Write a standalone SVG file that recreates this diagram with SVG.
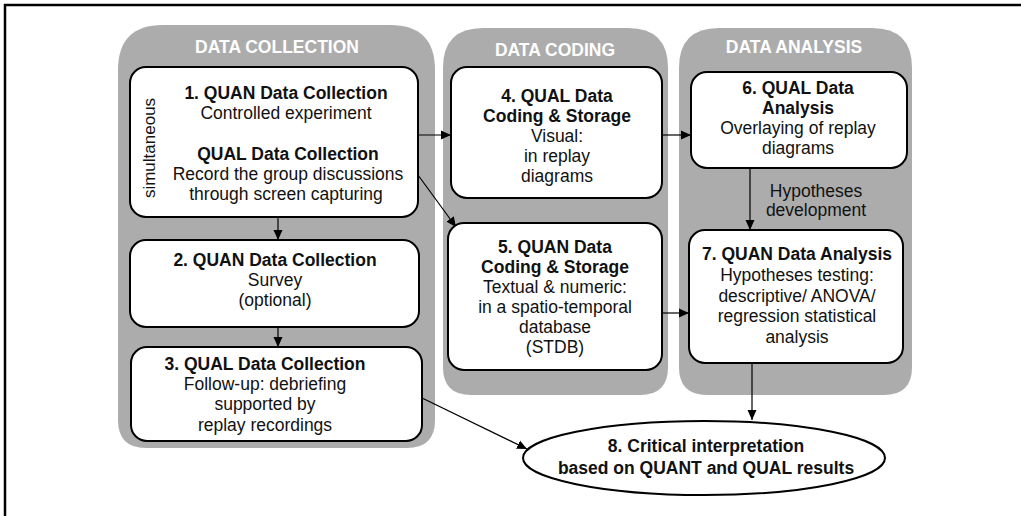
<svg xmlns="http://www.w3.org/2000/svg" width="1021" height="516" viewBox="0 0 1021 516">
<style>
.panel{fill:#acacac;}
.hdr{font-family:"Liberation Sans",Arial,sans-serif;font-size:17.5px;font-weight:bold;fill:#fff;text-anchor:middle;}
.box{fill:#fff;stroke:#000;stroke-width:2;}
.t{font-family:"Liberation Sans",Arial,sans-serif;font-size:17.5px;fill:#111;text-anchor:middle;}
.b{font-weight:bold;}
.c{stroke:#000;stroke-width:1.2;fill:none;marker-end:url(#ah);}
</style>
<defs>
<marker id="ah" viewBox="0 0 10 10" refX="10" refY="5" markerWidth="10" markerHeight="10" markerUnits="userSpaceOnUse" orient="auto">
<path d="M0,0.5 L10,5 L0,9.5 Z" fill="#000"/>
</marker>
</defs>
<rect width="1021" height="516" fill="#fff"/>
<path d="M5,516 V5 H1021" fill="none" stroke="#000" stroke-width="2.5"/>

<g id="panel-collection">
<path class="panel" d="M118,420 V70 Q118,25 163,25 H390 Q435,25 435,70 V420 Q435,448 407,448 H146 Q118,448 118,420 Z"/>
<text class="hdr" x="277" y="53">DATA COLLECTION</text>
</g>
<g id="panel-coding">
<path class="panel" d="M443,367 V68 Q443,28 483,28 H628 Q668,28 668,68 V367 Q668,395 640,395 H471 Q443,395 443,367 Z"/>
<text class="hdr" x="555" y="56">DATA CODING</text>
</g>
<g id="panel-analysis">
<path class="panel" d="M679,367 V68 Q679,28 719,28 H872 Q912,28 912,68 V367 Q912,395 884,395 H707 Q679,395 679,367 Z"/>
<text class="hdr" x="794" y="53">DATA ANALYSIS</text>
</g>

<g id="connectors">
<line class="c" x1="418" y1="135" x2="451" y2="135"/>
<line class="c" x1="418" y1="175" x2="456" y2="227"/>
<line class="c" x1="278" y1="217" x2="278" y2="240"/>
<line class="c" x1="278" y1="327" x2="278" y2="347"/>
<line class="c" x1="662" y1="135" x2="691" y2="135"/>
<line class="c" x1="662" y1="313" x2="689" y2="313"/>
<line class="c" x1="750" y1="168" x2="750" y2="230"/>
<line class="c" x1="752" y1="363" x2="752" y2="420"/>
<line class="c" x1="422" y1="398" x2="527" y2="449"/>
<text class="t" x="816" y="197">Hypotheses</text>
<text class="t" x="816" y="216">development</text>
</g>

<g id="node1">
<rect class="box" x="130" y="67" width="288" height="150" rx="16"/>
<text class="t" transform="translate(155,148) rotate(-90)" style="font-size:17px">simultaneous</text>
<text class="t b" x="286" y="99">1. QUAN Data Collection</text>
<text class="t" x="286" y="119">Controlled experiment</text>
<text class="t b" x="288" y="160">QUAL Data Collection</text>
<text class="t" x="288" y="180">Record the group discussions</text>
<text class="t" x="286" y="200">through screen capturing</text>
</g>
<g id="node2">
<rect class="box" x="130" y="240" width="289" height="87" rx="16"/>
<text class="t b" x="275" y="266">2. QUAN Data Collection</text>
<text class="t" x="275" y="286">Survey</text>
<text class="t" x="275" y="306">(optional)</text>
</g>
<g id="node3">
<rect class="box" x="131" y="347" width="291" height="94" rx="16"/>
<text class="t b" x="265" y="370">3. QUAL Data Collection</text>
<text class="t" x="265" y="390">Follow-up: debriefing</text>
<text class="t" x="265" y="410">supported by</text>
<text class="t" x="265" y="431">replay recordings</text>
</g>
<g id="node4">
<rect class="box" x="451" y="67" width="211" height="131" rx="16"/>
<text class="t b" x="557" y="102">4. QUAL Data</text>
<text class="t b" x="557" y="122">Coding &amp; Storage</text>
<text class="t" x="557" y="142">Visual:</text>
<text class="t" x="557" y="162">in replay</text>
<text class="t" x="557" y="182">diagrams</text>
</g>
<g id="node5">
<rect class="box" x="448" y="223" width="214" height="147" rx="16"/>
<text class="t b" x="555" y="253">5. QUAN Data</text>
<text class="t b" x="555" y="273">Coding &amp; Storage</text>
<text class="t" x="555" y="293">Textual &amp; numeric:</text>
<text class="t" x="555" y="313">in a spatio-temporal</text>
<text class="t" x="555" y="333">database</text>
<text class="t" x="555" y="353">(STDB)</text>
</g>
<g id="node6">
<rect class="box" x="691" y="72" width="216" height="96" rx="16"/>
<text class="t b" x="798" y="94">6. QUAL Data</text>
<text class="t b" x="798" y="114">Analysis</text>
<text class="t" x="798" y="134">Overlaying of replay</text>
<text class="t" x="798" y="154">diagrams</text>
</g>
<g id="node7">
<rect class="box" x="689" y="230" width="214" height="133" rx="16"/>
<text class="t b" x="797" y="260">7. QUAN Data Analysis</text>
<text class="t" x="797" y="281">Hypotheses testing:</text>
<text class="t" x="797" y="302">descriptive/ ANOVA/</text>
<text class="t" x="797" y="322">regression statistical</text>
<text class="t" x="797" y="343">analysis</text>
</g>
<g id="node8">
<ellipse class="box" cx="704" cy="458" rx="181" ry="37"/>
<text class="t b" x="706" y="452">8. Critical interpretation</text>
<text class="t b" x="706" y="474">based on QUANT and QUAL results</text>
</g>
</svg>
